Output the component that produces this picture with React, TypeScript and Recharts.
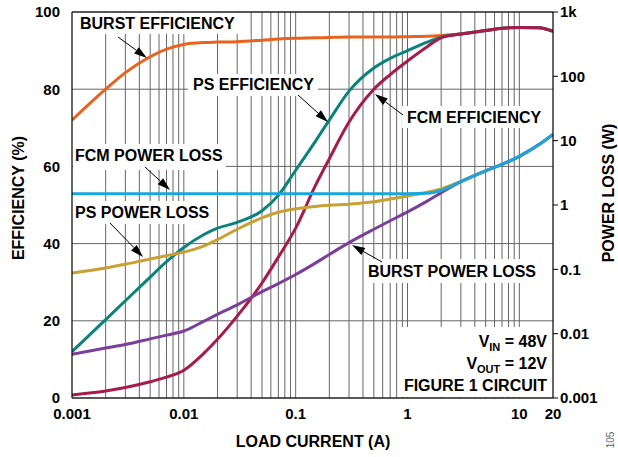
import React from 'react';
import { LineChart, Line, XAxis, YAxis, CartesianGrid, ReferenceLine } from 'recharts';

// load current (A)
const currents = [0.001, 0.002, 0.003, 0.005, 0.007, 0.01, 0.015, 0.02, 0.03, 0.05, 0.07, 0.1, 0.15, 0.2, 0.3, 0.5, 0.7, 1, 1.5, 2, 3, 5, 7, 10, 15, 20];

// efficiency (%)
const burstEff = [72, 80, 84.3, 88.4, 90.4, 91.6, 92.1, 92.2, 92.3, 92.7, 93, 93.2, 93.3, 93.4, 93.5, 93.5, 93.5, 93.6, 93.7, 93.9, 94.3, 95.2, 95.8, 96, 95.9, 95];
const psEff = [12, 20.3, 25.2, 31.3, 35.3, 39, 42.3, 44, 45.5, 48.5, 52.5, 59, 66.5, 72, 79.5, 85.5, 88, 90, 92.2, 93.5, 94.3, 95.2, 95.8, 96, 95.9, 95];
const fcmEff = [0.8, 1.8, 2.7, 4.2, 5.4, 7.2, 11.5, 15.2, 21.2, 29.8, 36.5, 44, 55, 62, 71.5, 80, 83.8, 87.3, 91, 93.3, 94.3, 95.2, 95.8, 96, 95.9, 95];

// power loss (W)
const fcmLoss = [1.5, 1.5, 1.5, 1.5, 1.5, 1.5, 1.5, 1.5, 1.5, 1.5, 1.5, 1.5, 1.5, 1.5, 1.5, 1.5, 1.5, 1.5, 1.52, 1.68, 2.3, 3.4, 4.27, 5.7, 8.7, 12.5];
const psLoss = [0.088, 0.105, 0.12, 0.145, 0.163, 0.185, 0.23, 0.29, 0.42, 0.63, 0.77, 0.87, 0.95, 0.99, 1.03, 1.12, 1.24, 1.38, 1.58, 1.78, 2.32, 3.4, 4.27, 5.7, 8.7, 12.5];
const burstLoss = [0.0048, 0.006, 0.0068, 0.0083, 0.0095, 0.011, 0.0155, 0.02, 0.028, 0.045, 0.06, 0.083, 0.125, 0.17, 0.26, 0.42, 0.57, 0.78, 1.15, 1.55, 2.3, 3.4, 4.27, 5.7, 8.7, 12.5];

const xTicks = [0.001, 0.01, 0.1, 1, 10, 20];
const effTicks = [0, 20, 40, 60, 80, 100];
const lossTicks = [0.001, 0.01, 0.1, 1, 10, 100, 1000];
const decades = [0.001, 0.01, 0.1, 1];
const gridX = decades.flatMap((d) => [2, 3, 4, 5, 6, 7, 8, 9, 10].map((m) => +(d * m).toPrecision(3)));

const data = currents.map((i, k) => ({
  i,
  burstEff: burstEff[k],
  psEff: psEff[k],
  fcmEff: fcmEff[k],
  fcmLoss: fcmLoss[k],
  psLoss: psLoss[k],
  burstLoss: burstLoss[k],
}));

const FONT = '"Liberation Sans", Arial, Helvetica, sans-serif';
const tickStyle = { fontFamily: FONT, fontSize: 15, fontWeight: 700, fill: '#000' };

function Arrow({ x1, y1, x2, y2 }: { x1: number; y1: number; x2: number; y2: number }) {
  const dx = x2 - x1;
  const dy = y2 - y1;
  const len = Math.hypot(dx, dy);
  const ux = dx / len;
  const uy = dy / len;
  const hl = 13;
  const hw = 4;
  const bx = x2 - ux * hl;
  const by = y2 - uy * hl;
  const pts = `${x2},${y2} ${bx - uy * hw},${by + ux * hw} ${bx + uy * hw},${by - ux * hw}`;
  return (
    <g>
      <line x1={x1} y1={y1} x2={bx} y2={by} stroke="#000" strokeWidth={1} />
      <polygon points={pts} fill="#000" />
    </g>
  );
}

// white box behind a label, it breaks the grid lines like in the original
function Box({ x, y, w, h }: { x: number; y: number; w: number; h: number }) {
  return <rect x={x} y={y} width={w} height={h} fill="#fff" />;
}

function Overlay() {
  const t = { fontFamily: FONT, fontSize: 16, fontWeight: 700, fill: '#000' } as const;
  return (
    <svg width={618} height={457} style={{ position: 'absolute', left: 0, top: 0, pointerEvents: 'none' }}>
      <Box x={76} y={13} w={162} h={21} />
      <text x={80} y={29} {...t}>BURST EFFICIENCY</text>
      <Arrow x1={118} y1={37} x2={147} y2={58} />

      <Box x={188} y={74} w={130} h={22} />
      <text x={193} y={90} {...t}>PS EFFICIENCY</text>
      <Arrow x1={298} y1={95} x2={328} y2={122} />

      <Box x={402} y={106} w={144} h={22} />
      <text x={407} y={123} {...t}>FCM EFFICIENCY</text>
      <Arrow x1={403} y1={115} x2={375} y2={94} />

      <Box x={73} y={144} w={153} h={26} />
      <text x={75} y={161} {...t}>FCM POWER LOSS</text>
      <Arrow x1={145} y1={167} x2={170} y2={190} />

      <Box x={73} y={201} w={139} h={23} />
      <text x={75} y={218} {...t}>PS POWER LOSS</text>
      <Arrow x1={110} y1={223} x2={143} y2={257} />

      <Box x={364} y={259} w={176} h={24} />
      <text x={368} y={277} {...t}>BURST POWER LOSS</text>
      <Arrow x1={382} y1={262} x2={352} y2={245} />

      <Box x={398} y={327} w={154} h={70} />
      <text x={547} y={347} textAnchor="end" {...t}>
        V<tspan fontSize={11} dy={4}>IN</tspan>
        <tspan dy={-4}> = 48V</tspan>
      </text>
      <text x={547} y={369} textAnchor="end" {...t}>
        V<tspan fontSize={11} dy={4}>OUT</tspan>
        <tspan dy={-4}> = 12V</tspan>
      </text>
      <text x={547} y={391} textAnchor="end" {...t}>FIGURE 1 CIRCUIT</text>

      <text x={313} y={447} textAnchor="middle" {...t}>LOAD CURRENT (A)</text>
      <text x={24} y={198} textAnchor="middle" transform="rotate(-90 24 198)" {...t}>EFFICIENCY (%)</text>
      <text x={614} y={193} textAnchor="middle" transform="rotate(-90 614 193)" {...t}>POWER LOSS (W)</text>
      <text x={614} y={440} textAnchor="middle" transform="rotate(-90 614 440)" fontFamily={FONT} fontSize={10} fill="#666">105</text>
    </svg>
  );
}

export default function App() {
  return (
    <div style={{ position: 'relative', width: 618, height: 457, background: '#fff' }}>
      <style>{'body{margin:0}'}</style>
      <LineChart width={618} height={457} data={data} margin={{ top: 12, right: 0, bottom: 29, left: 32 }}>
        <CartesianGrid yAxisId="eff" vertical={false} stroke="#666" />
        {gridX.map((v) => (
          <ReferenceLine key={v} x={v} yAxisId="eff" stroke="#666" strokeWidth={1} />
        ))}
        <ReferenceLine y={100} yAxisId="eff" stroke="#000" strokeWidth={1.2} />
        <XAxis
          dataKey="i"
          type="number"
          scale="log"
          domain={[0.001, 20]}
          ticks={xTicks}
          allowDataOverflow
          tickLine={false}
          tickMargin={4}
          axisLine={{ stroke: '#000', strokeWidth: 1.2 }}
          tick={tickStyle}
          tickFormatter={(v) => String(v)}
          height={30}
          interval={0}
        />
        <YAxis
          yAxisId="eff"
          domain={[0, 100]}
          ticks={effTicks}
          tickLine={false}
          tickMargin={6}
          axisLine={{ stroke: '#000', strokeWidth: 1.2 }}
          tick={tickStyle}
          width={40}
          interval={0}
        />
        <YAxis
          yAxisId="loss"
          orientation="right"
          scale="log"
          domain={[0.001, 1000]}
          ticks={lossTicks}
          allowDataOverflow
          tickSize={5}
          tickMargin={2}
          tickLine={{ stroke: '#000' }}
          axisLine={{ stroke: '#000', strokeWidth: 1.2 }}
          tick={tickStyle}
          tickFormatter={(v) => (v === 1000 ? '1k' : String(v))}
          width={65}
          interval={0}
        />
        <Line yAxisId="eff" type="monotone" dataKey="burstEff" stroke="#E8641E" strokeWidth={3} dot={false} isAnimationActive={false} />
        <Line yAxisId="eff" type="monotone" dataKey="psEff" stroke="#0A847A" strokeWidth={3} dot={false} isAnimationActive={false} />
        <Line yAxisId="eff" type="monotone" dataKey="fcmEff" stroke="#A51C4C" strokeWidth={3} dot={false} isAnimationActive={false} />
        <Line yAxisId="loss" type="monotone" dataKey="psLoss" stroke="#C9A034" strokeWidth={3} dot={false} isAnimationActive={false} />
        <Line yAxisId="loss" type="monotone" dataKey="burstLoss" stroke="#7B3F98" strokeWidth={3} dot={false} isAnimationActive={false} />
        <Line yAxisId="loss" type="monotone" dataKey="fcmLoss" stroke="#1AA6DC" strokeWidth={3} dot={false} isAnimationActive={false} />
      </LineChart>
      <Overlay />
    </div>
  );
}
